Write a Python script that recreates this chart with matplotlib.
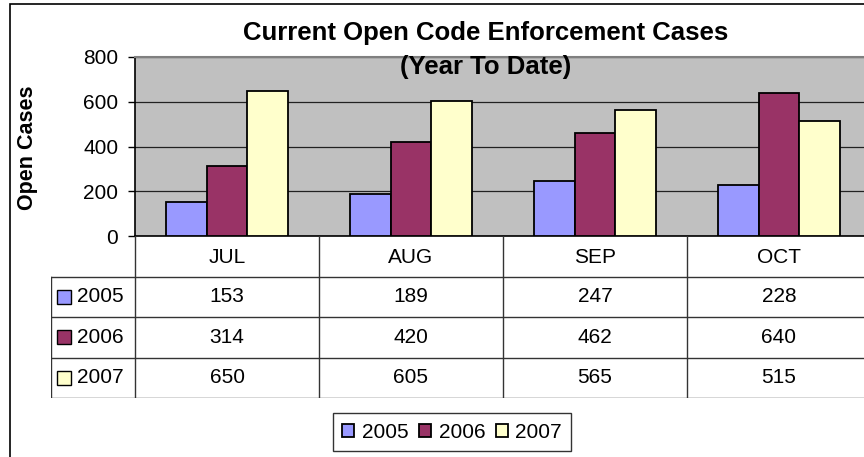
import matplotlib.pyplot as plt
import numpy as np
from matplotlib.patches import Rectangle

months = ["JUL", "AUG", "SEP", "OCT"]
years = ["2005", "2006", "2007"]
cases_2005 = [153, 189, 247, 228]
cases_2006 = [314, 420, 462, 640]
cases_2007 = [650, 605, 565, 515]
y_ticks = [0, 200, 400, 600, 800]

series = [cases_2005, cases_2006, cases_2007]
colors = ["#9999FF", "#993366", "#FFFFCC"]

plt.rcParams["font.family"] = ["Liberation Sans", "DejaVu Sans"]

W, H = 864, 457
fig = plt.figure(figsize=(W / 100, H / 100), dpi=100)


def fx(px):
    return px / W


def fy(py):
    return 1 - py / H


# outer chart frame (cropped on the right and bottom like the original)
fig.patches.append(Rectangle((fx(9.5), fy(470)), fx(900), fy(4) - fy(470),
                             transform=fig.transFigure, fill=False,
                             edgecolor="black", lw=1.2))

# bar chart area
ax = fig.add_axes([fx(135), fy(236), fx(736), fy(57) - fy(236)])
ax.set_facecolor("#C0C0C0")
x = np.arange(len(months))
width = 0.22
for i, (vals, col, yr) in enumerate(zip(series, colors, years)):
    ax.bar(x + (i - 1) * width, vals, width, color=col, edgecolor="black",
           linewidth=1.3, label=yr, zorder=3)

ax.set_xlim(-0.5, len(months) - 0.5)
ax.set_ylim(0, 800)
ax.set_yticks(y_ticks)
ax.set_yticklabels([str(t) for t in y_ticks], fontsize=15)
ax.set_xticks([])
ax.tick_params(axis="y", length=5, width=1, direction="out", pad=7)
ax.grid(axis="y", color="#222222", linewidth=0.9, zorder=1)
ax.spines["right"].set_visible(False)
ax.spines["top"].set_color("#808080")
ax.spines["top"].set_linewidth(1.5)
ax.spines["left"].set_linewidth(1.2)
ax.spines["bottom"].set_linewidth(1.2)

fig.text(fx(28), fy(148), "Open Cases", rotation=90, fontsize=15.5,
         fontweight="bold", ha="center", va="center")
fig.text(fx(486), fy(33), "Current Open Code Enforcement Cases", fontsize=18.5,
         fontweight="bold", ha="center", va="center")
fig.text(fx(486), fy(67), "(Year To Date)", fontsize=18.5,
         fontweight="bold", ha="center", va="center")

# data table below the chart
ax_t = fig.add_axes([fx(51), fy(398), fx(871 - 51), fy(236) - fy(398)])
x_left = -0.5 - 84 / 184
ax_t.set_xlim(x_left, len(months) - 0.5)
ax_t.set_ylim(0, 4)
ax_t.axis("off")
line_kw = dict(color="#333333", linewidth=1)
for xv in np.arange(len(months)) - 0.5:
    ax_t.plot([xv, xv], [0, 4], **line_kw)
ax_t.plot([x_left, x_left], [0, 3], **line_kw)
for yv in [0, 1, 2, 3]:
    ax_t.plot([x_left, len(months) - 0.5], [yv, yv], **line_kw)

for j, m in enumerate(months):
    ax_t.text(j, 3.48, m, fontsize=15, ha="center", va="center")
for r, (vals, col, yr) in enumerate(zip(series, colors, years)):
    yc = 2.5 - r
    ax_t.plot([x_left + 12.5 / 184], [yc], marker="s", markersize=9.5,
              markerfacecolor=col, markeredgecolor="black", markeredgewidth=1)
    ax_t.text(x_left + 26 / 184, yc, yr, fontsize=15, ha="left", va="center")
    for j, v in enumerate(vals):
        ax_t.text(j, yc, str(v), fontsize=15, ha="center", va="center")

leg = fig.legend(loc="center", bbox_to_anchor=(fx(452), fy(432)), ncol=3,
                 fontsize=15, frameon=True, fancybox=False, edgecolor="black",
                 handlelength=0.6, handleheight=0.6, handletextpad=0.35,
                 columnspacing=0.5, borderpad=0.45)
leg.get_frame().set_linewidth(1)

fig.savefig("out.png", dpi=100)
